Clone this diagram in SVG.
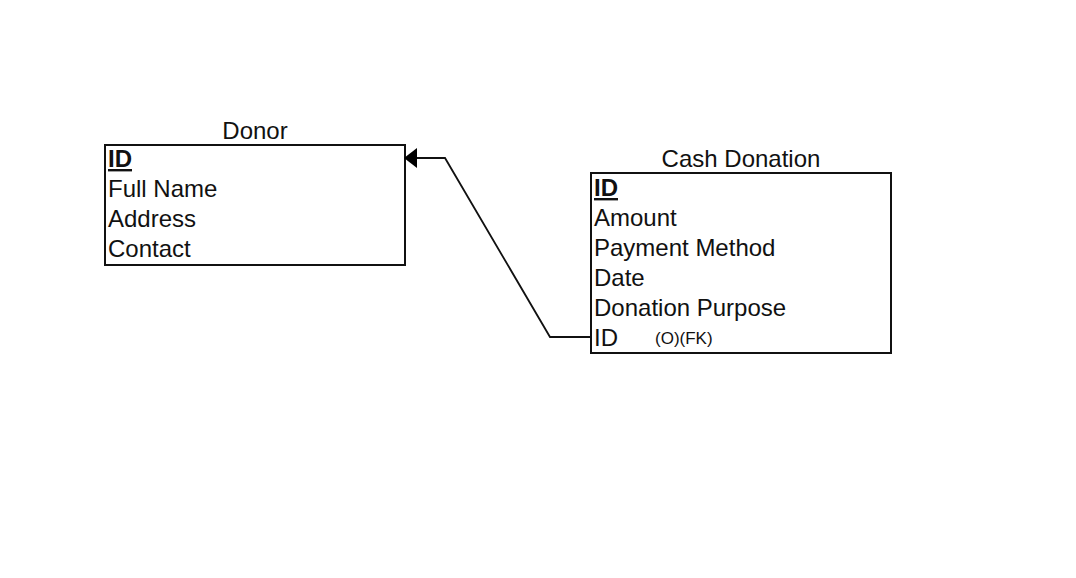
<svg xmlns="http://www.w3.org/2000/svg" width="1076" height="578" viewBox="0 0 1076 578">
<style>
text{font-family:"Liberation Sans",Arial,sans-serif;fill:#111}
.t{font-size:24px}
.pk{font-weight:bold;text-decoration:underline}
.box{fill:#fff;stroke:#111;stroke-width:2}
.c{fill:none;stroke:#111;stroke-width:1.8}
.s{font-size:17px}
</style>
<defs>
<marker id="arr" viewBox="0 0 13 20" refX="12" refY="10" markerWidth="13" markerHeight="20" markerUnits="userSpaceOnUse" orient="auto">
<path d="M0,0 L13,10 L0,20 Z" fill="#000"/>
</marker>
</defs>
<rect width="1076" height="578" fill="#fff"/>
<g id="donor">
<text class="t" x="255" y="139" text-anchor="middle">Donor</text>
<rect class="box" x="105" y="145" width="300" height="120"/>
<text class="t pk" x="108" y="167">ID</text>
<text class="t" x="108" y="197">Full Name</text>
<text class="t" x="108" y="227">Address</text>
<text class="t" x="108" y="257">Contact</text>
</g>
<g id="cash-donation">
<text class="t" x="741" y="167" text-anchor="middle">Cash Donation</text>
<rect class="box" x="591" y="173" width="300" height="180"/>
<text class="t pk" x="594" y="196">ID</text>
<text class="t" x="594" y="226">Amount</text>
<text class="t" x="594" y="256">Payment Method</text>
<text class="t" x="594" y="286">Date</text>
<text class="t" x="594" y="316">Donation Purpose</text>
<text class="t" x="594" y="346">ID</text>
<text class="s" x="655" y="344">(O)(FK)</text>
</g>
<g id="connectors">
<path class="c" d="M591,337 H550 L445,158 H405" marker-end="url(#arr)"/>
</g>
</svg>
